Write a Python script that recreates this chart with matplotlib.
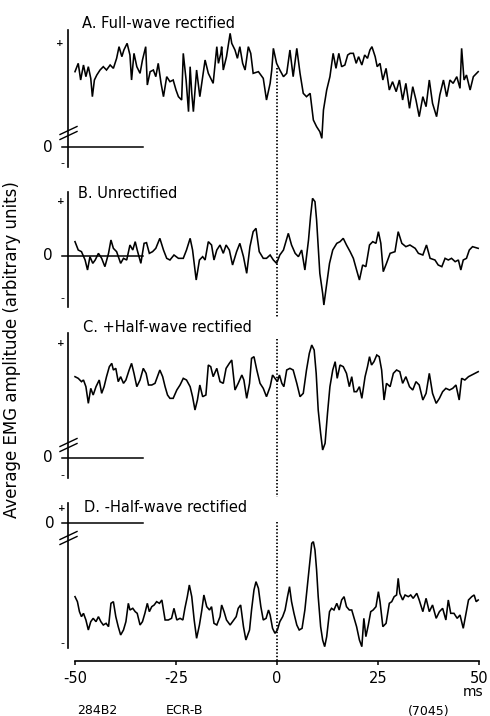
import numpy as np
import matplotlib
matplotlib.use("Agg")
import matplotlib.pyplot as plt
from matplotlib.transforms import blended_transform_factory as blend
from matplotlib.lines import Line2D

# ---------------- data (time in ms, amplitude in arbitrary units) ----------------
a_time = [-50.0,-49.2,-48.6,-47.9,-47.3,-46.7,-46.1,-45.7,-45.2,-44.6,
          -43.8,-43.0,-42.2,-41.3,-40.5,-39.7,-39.1,-38.4,-37.9,-37.1,
          -36.4,-36.0,-35.4,-34.7,-33.9,-33.3,-32.5,-32.1,-31.4,-30.6,
          -30.0,-29.4,-28.7,-28.1,-27.3,-26.5,-25.7,-25.0,-24.4,-23.6,
          -23.2,-22.5,-21.9,-21.5,-21.1,-20.7,-19.9,-19.1,-18.4,-17.8,
          -17.0,-15.8,-14.9,-14.5,-13.9,-13.7,-13.3,-12.5,-11.6,-11.2,
          -10.4,-9.8,-9.2,-8.5,-7.9,-7.1,-6.5,-5.9,-4.6,-3.4,
          -2.6,-1.7,-1.3,-0.9,-0.1,0.7,1.6,2.4,3.2,4.0,
          4.9,5.7,6.5,7.3,8.2,9.0,9.8,10.6,11.1,11.5,
          12.3,13.1,13.9,14.6,15.3,16.0,16.8,17.5,18.1,18.9,
          19.6,20.2,21.0,21.7,22.4,23.0,23.5,24.3,24.8,25.5,
          26.2,27.0,27.8,28.6,29.5,30.3,31.1,31.9,32.8,33.6,
          34.4,35.2,36.1,36.9,37.7,38.5,39.5,40.3,41.2,42.0,
          42.8,43.6,44.5,45.3,45.7,46.3,46.9,47.8,48.6,49.8]
a_full = [2.26,2.51,2.01,2.46,2.11,2.41,2.06,1.51,2.01,2.16,
          2.31,2.41,2.31,2.46,2.36,2.66,3.01,2.71,2.91,3.11,
          2.76,2.01,2.81,2.41,2.21,2.61,3.01,1.86,2.26,2.31,
          2.11,2.51,1.91,1.51,2.11,1.96,2.01,1.71,1.51,1.41,
          2.81,2.01,1.06,2.41,1.61,1.06,2.31,1.51,2.11,2.61,
          2.21,1.91,3.01,2.51,2.81,3.01,2.31,2.71,3.41,3.11,
          2.91,2.66,3.01,2.51,2.31,3.01,2.81,2.21,2.26,2.06,
          1.41,1.91,2.31,2.96,2.51,2.31,2.11,2.21,2.91,2.11,
          2.96,2.21,1.61,1.51,1.61,0.81,0.61,0.46,0.26,1.11,
          1.71,2.11,2.81,2.36,2.81,2.41,2.46,2.76,2.81,2.81,
          2.51,2.71,2.46,2.76,2.66,2.91,3.01,2.71,2.41,2.51,
          2.01,2.36,1.71,1.96,1.66,2.01,1.41,1.91,1.16,1.81,
          1.41,0.91,1.51,1.21,2.01,1.31,0.91,1.56,2.01,1.51,
          2.01,1.91,2.11,1.76,2.96,2.01,2.16,1.71,2.11,2.26]

b_time = [-50.0,-49.2,-48.4,-47.5,-46.9,-46.3,-45.6,-45.0,-44.2,-43.4,
          -42.6,-41.7,-41.1,-40.5,-39.7,-38.7,-38.0,-37.2,-36.4,-35.7,
          -35.1,-34.6,-33.7,-32.9,-32.3,-31.6,-30.8,-30.0,-29.0,-28.1,
          -27.3,-26.5,-25.5,-24.4,-23.2,-22.4,-21.5,-20.9,-20.0,-19.2,
          -18.4,-17.8,-17.0,-16.2,-15.6,-14.9,-14.1,-13.3,-12.6,-11.8,
          -11.0,-10.0,-9.2,-8.3,-7.5,-6.7,-5.9,-5.2,-4.4,-3.4,
          -2.6,-1.7,-0.9,-0.1,0.7,1.6,2.8,3.6,4.5,5.3,
          6.1,6.9,7.8,8.3,8.8,9.4,9.8,10.6,11.3,11.6,
          12.1,13.0,13.8,14.8,15.6,16.4,17.2,18.1,18.9,19.7,
          20.4,21.2,22.0,22.9,23.7,24.5,25.1,25.7,26.3,27.1,
          28.0,29.2,30.0,30.9,31.9,32.9,34.2,35.0,36.1,37.0,
          37.9,39.1,39.9,40.8,41.6,42.4,43.2,44.1,44.9,45.5,
          46.1,46.9,47.6,48.4,49.8]
b_unrect = [0.43,0.18,0.13,-0.12,-0.42,-0.02,-0.22,-0.12,0.08,-0.07,
            -0.32,0.08,0.48,0.23,0.13,-0.22,-0.07,-0.12,0.33,0.18,
            0.43,0.18,-0.22,0.38,0.40,0.08,0.13,0.23,0.53,0.18,
            -0.07,-0.12,0.03,-0.07,-0.07,0.18,0.53,0.18,-0.72,-0.12,
            -0.02,-0.12,0.43,0.33,-0.12,0.18,0.33,0.08,0.33,0.18,
            -0.27,0.13,0.38,-0.02,-0.52,0.28,0.73,0.83,0.13,-0.07,
            -0.07,0.03,-0.12,-0.22,0.03,0.18,0.68,0.33,0.08,-0.02,
            0.18,-0.42,0.48,1.18,1.73,1.63,1.08,-0.52,-1.12,-1.47,
            -1.02,-0.22,0.18,0.38,0.43,0.53,0.33,0.13,-0.07,-0.42,
            -0.72,-0.27,-0.32,0.33,0.43,0.38,0.73,0.38,-0.47,-0.22,
            0.08,0.13,0.73,0.38,0.28,0.33,0.23,0.08,0.03,0.33,
            -0.07,-0.12,-0.27,-0.32,-0.07,-0.12,-0.07,-0.17,-0.12,-0.42,
            -0.12,-0.07,0.18,0.28,0.23]

c_time = [-50.0,-49.2,-48.4,-47.9,-47.3,-46.7,-46.1,-45.5,-44.8,-44.0,
          -43.4,-42.8,-42.2,-41.5,-40.9,-40.5,-39.9,-39.3,-38.7,-38.0,
          -37.4,-36.6,-36.0,-35.4,-34.7,-33.9,-33.1,-32.4,-31.8,-31.0,
          -30.2,-29.6,-29.0,-28.3,-27.7,-27.1,-26.5,-25.7,-24.8,-24.0,
          -23.2,-22.4,-21.5,-20.9,-20.3,-19.7,-19.1,-18.4,-17.6,-17.0,
          -16.4,-15.8,-14.9,-14.1,-13.3,-12.6,-11.8,-11.2,-10.4,-9.6,
          -8.7,-8.2,-7.5,-6.8,-6.3,-5.7,-5.0,-4.2,-3.4,-2.6,
          -1.7,-1.1,-0.5,0.1,0.6,1.2,1.7,2.4,3.2,4.0,
          4.9,5.7,6.5,7.3,8.0,8.6,9.2,9.7,10.2,10.8,
          11.3,11.9,12.5,13.1,13.8,14.4,14.9,15.6,16.4,17.2,
          17.9,18.5,19.1,19.7,20.4,21.0,21.8,22.4,22.9,23.4,
          24.0,24.7,25.3,25.9,26.5,27.1,28.0,28.8,29.6,30.4,
          31.1,31.9,32.8,33.6,34.4,35.2,36.1,36.9,37.7,38.5,
          39.4,40.2,41.0,41.8,42.7,43.5,44.3,45.1,45.7,46.5,
          47.4,48.2,49.0,49.8]
c_pos_half = [2.44,2.39,2.29,2.34,2.14,1.64,2.09,1.89,2.14,2.34,
              1.94,2.14,2.44,2.74,2.84,2.64,2.69,2.29,2.44,2.24,
              2.34,2.64,2.84,2.54,2.14,2.34,2.69,2.54,2.19,2.19,
              2.24,2.44,2.64,2.44,2.14,1.89,1.79,1.79,2.04,2.19,
              2.39,2.34,2.14,1.84,1.44,1.74,2.19,1.84,1.89,2.79,
              2.74,2.44,2.69,2.29,2.24,2.69,2.84,2.94,2.04,2.24,
              2.49,2.34,1.79,2.24,2.99,3.04,2.64,2.24,2.09,1.84,
              2.14,2.49,2.39,2.29,2.49,2.24,2.14,2.64,2.69,2.64,
              2.24,1.84,1.94,2.64,3.14,3.39,3.24,2.54,1.44,0.74,
              0.24,0.44,1.34,2.14,2.64,2.89,2.39,2.79,2.74,2.54,
              2.14,2.44,1.99,1.99,2.14,1.79,2.44,2.74,3.04,2.79,
              2.89,3.09,3.04,2.64,1.74,2.24,2.14,2.54,2.64,2.59,
              2.24,2.44,2.14,2.04,2.29,2.19,1.74,1.94,2.54,1.94,
              1.64,1.79,1.99,2.09,2.04,2.09,2.19,1.74,2.39,2.34,
              2.44,2.49,2.54,2.59]

d_time = [-50.0,-49.4,-48.9,-48.4,-47.9,-47.3,-46.7,-46.1,-45.5,-44.8,
          -44.2,-43.6,-43.0,-42.3,-41.7,-41.1,-40.5,-39.9,-39.3,-38.7,
          -38.0,-37.4,-36.8,-36.4,-35.7,-35.1,-34.6,-33.9,-33.3,-32.7,
          -32.1,-31.6,-31.0,-30.4,-29.8,-29.1,-28.5,-27.7,-26.9,-26.1,
          -25.5,-24.8,-24.0,-23.3,-22.8,-22.2,-21.7,-21.1,-20.5,-19.9,
          -19.2,-18.6,-18.1,-17.4,-16.7,-16.2,-15.6,-14.9,-14.1,-13.7,
          -13.1,-12.5,-11.6,-11.0,-10.1,-9.6,-9.0,-8.3,-7.7,-6.8,
          -6.3,-5.7,-5.2,-4.6,-4.0,-3.4,-2.7,-2.1,-1.7,-1.1,
          -0.5,0.1,0.7,1.4,2.0,2.6,3.1,3.6,4.2,4.9,
          5.5,6.2,6.9,7.5,8.2,8.6,9.0,9.4,9.8,10.2,
          10.8,11.3,11.8,12.3,13.0,13.5,14.1,14.8,15.4,16.0,
          16.6,17.2,17.9,18.5,19.1,19.7,20.4,21.0,21.5,22.0,
          22.6,23.2,23.8,24.5,25.1,25.5,26.2,27.0,27.8,28.4,
          29.0,29.6,30.0,30.4,31.1,31.7,32.5,33.1,33.7,34.6,
          35.2,36.1,36.9,37.7,38.5,39.4,40.2,41.0,41.8,42.4,
          43.0,43.8,44.6,45.3,46.1,46.8,47.4,48.2,48.8,49.3,
          49.8]
d_neg_half = [-2.21,-2.36,-2.66,-2.81,-2.71,-2.91,-3.21,-2.96,-2.86,-2.96,
              -2.81,-2.96,-3.06,-3.01,-3.11,-2.41,-2.36,-2.81,-3.11,-3.36,
              -3.21,-2.96,-2.41,-2.61,-2.56,-2.66,-2.71,-3.06,-2.96,-2.71,
              -2.41,-2.66,-2.51,-2.46,-2.36,-2.41,-2.31,-2.91,-2.91,-2.86,
              -2.56,-2.91,-2.86,-2.91,-2.56,-2.21,-1.86,-2.21,-2.91,-3.46,
              -3.06,-2.61,-2.16,-2.51,-2.61,-2.51,-3.01,-3.06,-2.81,-2.46,
              -2.66,-2.91,-3.06,-2.96,-2.81,-2.56,-2.46,-3.11,-3.51,-3.21,
              -2.61,-2.01,-1.76,-1.96,-2.51,-2.91,-2.86,-2.61,-2.76,-3.16,
              -3.31,-3.21,-2.96,-2.81,-2.61,-2.21,-1.91,-2.36,-2.71,-3.06,
              -3.21,-3.16,-2.61,-1.91,-1.11,-0.61,-0.56,-0.81,-1.41,-2.21,
              -3.11,-3.51,-3.71,-3.41,-2.66,-2.56,-2.61,-2.41,-2.61,-2.31,
              -2.21,-2.51,-2.61,-2.61,-2.86,-3.11,-3.51,-3.71,-2.86,-3.41,
              -3.06,-2.66,-2.61,-2.51,-2.06,-2.36,-3.11,-3.01,-2.41,-2.36,
              -2.21,-2.16,-1.66,-2.11,-2.31,-2.16,-2.21,-2.16,-2.26,-2.11,
              -2.31,-2.66,-2.26,-2.66,-2.46,-2.86,-2.66,-2.56,-2.91,-2.31,
              -2.71,-2.71,-2.86,-2.76,-3.16,-2.71,-2.31,-2.21,-2.16,-2.36,
              -2.31]

panel_titles = ["A. Full-wave rectified", "B. Unrectified",
                "C. +Half-wave rectified", "D. -Half-wave rectified"]
time_ticks = [-50, -25, 0, 25, 50]
time_tick_labels = ["-50", "-25", "0", "25", "50"]
footer_labels = ["284B2", "ECR-B", "(7045)"]

# ---------------- layout (pixels) ----------------
W, H = 490, 716
PX_PER_UNIT = 33.33
X_LEFT, X_RIGHT = 68, 485
PX_PER_MS = 4.04
T0_PX = 277

fig = plt.figure(figsize=(W / 100, H / 100), dpi=100)
fig.patch.set_facecolor("white")

LW = 1.15
FONT = "DejaVu Sans"

panels = [
    dict(top=30, bottom=167, zero=147, plus=43, minus=163, brk=133, tx=82, ty=23, zx=48, plus_x=60),
    dict(top=192, bottom=307, zero=256, plus=202, minus=298, brk=None, tx=78, ty=194, zx=48, plus_x=61),
    dict(top=333, bottom=478, zero=458, plus=343, minus=475, brk=445, tx=83, ty=327, zx=48, plus_x=61),
    dict(top=503, bottom=648, zero=523, plus=508, minus=643, brk=538, tx=84, ty=508, zx=50, plus_x=62),
]
series = [(a_time, a_full), (b_time, b_unrect), (c_time, c_pos_half), (d_time, d_neg_half)]

axes = []
for p, (t, v), title in zip(panels, series, panel_titles):
    ax = fig.add_axes([X_LEFT / W, 1 - p["bottom"] / H,
                       (X_RIGHT - X_LEFT) / W, (p["bottom"] - p["top"]) / H])
    t_left = -50 + (X_LEFT - (T0_PX - 50 * PX_PER_MS)) / PX_PER_MS
    t_right = 50 + (X_RIGHT - (T0_PX + 50 * PX_PER_MS)) / PX_PER_MS
    ax.set_xlim(t_left, t_right)
    ax.set_ylim((p["zero"] - p["bottom"]) / PX_PER_UNIT, (p["zero"] - p["top"]) / PX_PER_UNIT)
    ax.patch.set_alpha(0)
    for s in ["top", "right", "bottom"]:
        ax.spines[s].set_visible(False)
    ax.spines["left"].set_linewidth(1.2)
    ax.set_xticks([])
    ax.set_yticks([])

    ax.plot(t, v, color="black", lw=LW, solid_joinstyle="miter")

    tr = blend(ax.transAxes, ax.transData)
    axw = X_RIGHT - X_LEFT

    def fx(px):
        return (px - X_LEFT) / axw

    # zero reference line
    ax.plot([fx(62), fx(143)], [0, 0], color="black", lw=1.1, transform=tr, clip_on=False)
    # axis labels 0, +, -
    ax.text(fx(p["zx"]), 0, "0", transform=tr, ha="center", va="center",
            fontsize=11, family=FONT)
    ax.text(fx(p["plus_x"]), (p["zero"] - p["plus"]) / PX_PER_UNIT, "+", transform=tr,
            ha="center", va="center", fontsize=6.5, family=FONT, fontweight="bold")
    ax.text(fx(62), (p["zero"] - p["minus"]) / PX_PER_UNIT, "-", transform=tr,
            ha="center", va="center", fontsize=8, family=FONT)
    # axis break marks
    if p["brk"] is not None:
        yb = (p["zero"] - p["brk"]) / PX_PER_UNIT
        for off in (-2.5, 2.5):
            ax.plot([fx(60), fx(77)],
                    [yb + (off - 4) / PX_PER_UNIT, yb + (off + 4) / PX_PER_UNIT],
                    color="black", lw=1.0, transform=tr, clip_on=False)
    fig.text(p["tx"] / W, 1 - p["ty"] / H, title, ha="left", va="center",
             fontsize=10.5, family=FONT)
    axes.append(ax)

# bottom time axis on panel D
axd = axes[-1]
axd.spines["bottom"].set_visible(True)
axd.spines["bottom"].set_position(("outward", 13 * 0.72))
axd.spines["bottom"].set_bounds(-50, 50)
axd.spines["bottom"].set_linewidth(1.2)
axd.set_xticks(time_ticks)
axd.set_xticklabels(time_tick_labels, fontsize=10.5, family=FONT)
axd.tick_params(axis="x", direction="out", length=3, width=1.1, pad=4)

fig.text(473 / W, 1 - 696 / H, "ms", ha="center", va="baseline", fontsize=10, family=FONT)
for lab, xpx in zip(footer_labels, [97, 184, 429]):
    fig.text(xpx / W, 1 - 711 / H, lab, ha="center", va="center", fontsize=9, family=FONT)
fig.text(12 / W, 1 - 350 / H, "Average EMG amplitude (arbitrary units)", rotation=90,
         ha="center", va="center", fontsize=12, family=FONT)

# dotted line at time zero (segments interrupted by panel titles)
trz = blend(axd.transData, fig.transFigure)
for y0, y1 in [(68, 318), (339, 497), (522, 661)]:
    fig.add_artist(Line2D([0, 0], [1 - y0 / H, 1 - y1 / H], transform=trz,
                          color="black", lw=1.3, linestyle=(0, (0.8, 1.1))))

fig.savefig("out.png", dpi=100, facecolor="white")
